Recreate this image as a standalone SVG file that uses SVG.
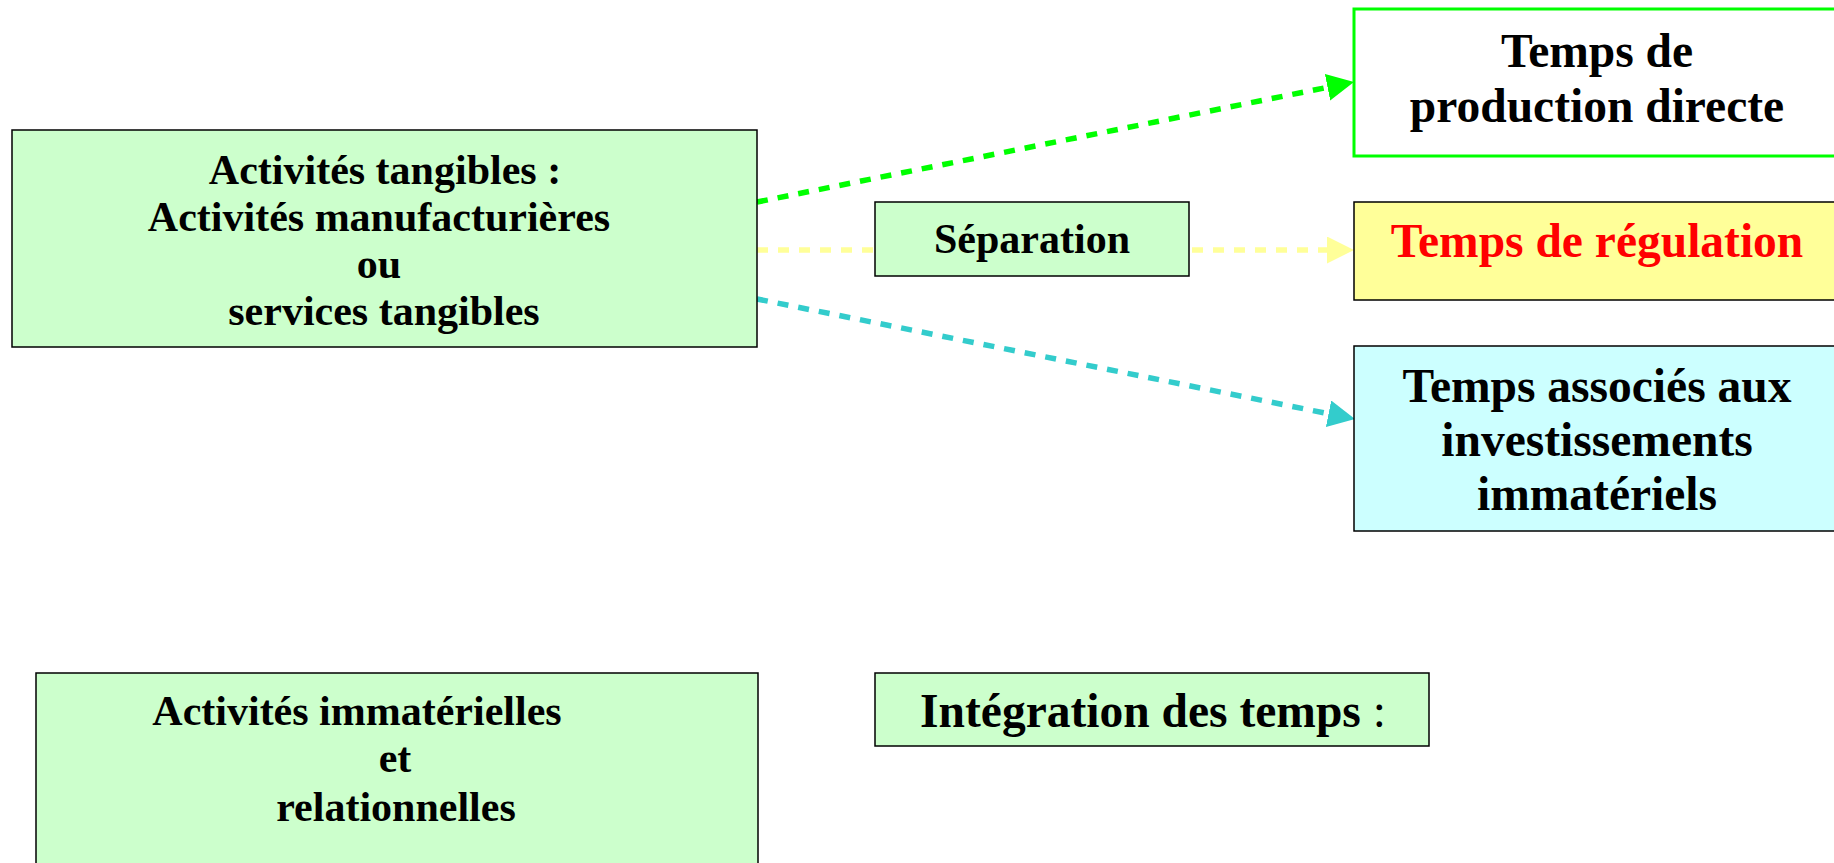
<svg xmlns="http://www.w3.org/2000/svg" width="1834" height="863" viewBox="0 0 1834 863">
  <defs>
    <style>
      .box { stroke: #000000; stroke-width: 1.5; }
      .green { fill: #ccffcc; }
      .t { font-family: "Liberation Serif", "Times New Roman", serif; font-weight: bold; fill: #000000; text-anchor: middle; }
      .s42 { font-size: 42px; }
      .s47 { font-size: 47.5px; }
      .link { fill: none; stroke-width: 5.5; stroke-dasharray: 11 10; }
    </style>
    <marker id="headGreen" markerUnits="userSpaceOnUse" markerWidth="28" markerHeight="28" refX="0" refY="13.5" orient="auto">
      <path d="M0,0 L27,13.5 L0,27 Z" fill="#00ff00"/>
    </marker>
    <marker id="headYellow" markerUnits="userSpaceOnUse" markerWidth="28" markerHeight="28" refX="0" refY="13.5" orient="auto">
      <path d="M0,0 L27,13.5 L0,27 Z" fill="#ffff99"/>
    </marker>
    <marker id="headTeal" markerUnits="userSpaceOnUse" markerWidth="28" markerHeight="28" refX="0" refY="13.5" orient="auto">
      <path d="M0,0 L27,13.5 L0,27 Z" fill="#33cccc"/>
    </marker>
  </defs>

  <rect width="1834" height="863" fill="#ffffff"/>

  <!-- connectors -->
  <g id="connectors">
    <line class="link" x1="757" y1="202" x2="1327.5" y2="87.3" stroke="#00ff00" marker-end="url(#headGreen)"/>
    <line class="link" x1="757" y1="250" x2="875" y2="250" stroke="#ffff99"/>
    <line class="link" x1="1192" y1="250" x2="1327" y2="250" stroke="#ffff99" marker-end="url(#headYellow)"/>
    <line class="link" x1="757" y1="299" x2="1328.5" y2="413.7" stroke="#33cccc" marker-end="url(#headTeal)"/>
  </g>

  <!-- tangible activities -->
  <g id="tangibles">
    <rect class="box green" x="12" y="130" width="745" height="217"/>
    <text class="t s42" x="385" y="184">Activités tangibles :</text>
    <text class="t s42" x="379" y="231">Activités manufacturières</text>
    <text class="t s42" x="379" y="278">ou</text>
    <text class="t s42" x="384" y="325">services tangibles</text>
  </g>

  <!-- separation -->
  <g id="separation">
    <rect class="box green" x="875" y="202" width="314" height="74"/>
    <text class="t s42" x="1032" y="253">Séparation</text>
  </g>

  <!-- direct production time -->
  <g id="production">
    <rect x="1354" y="9" width="490" height="147" fill="#ffffff" stroke="#00ff00" stroke-width="3"/>
    <text class="t s47" x="1597" y="67">Temps de</text>
    <text class="t s47" x="1597" y="122">production directe</text>
  </g>

  <!-- regulation time -->
  <g id="regulation">
    <rect class="box" x="1354" y="202" width="490" height="98" fill="#ffff99"/>
    <text class="t s47" x="1597" y="257" fill="#ff0000" style="fill:#ff0000">Temps de régulation</text>
  </g>

  <!-- intangible investments time -->
  <g id="investissements">
    <rect class="box" x="1354" y="346" width="490" height="185" fill="#ccffff"/>
    <text class="t s47" x="1597" y="402">Temps associés aux</text>
    <text class="t s47" x="1597" y="456">investissements</text>
    <text class="t s47" x="1597" y="510">immatériels</text>
  </g>

  <!-- intangible and relational activities -->
  <g id="immaterielles">
    <rect class="box green" x="36" y="673" width="722" height="200"/>
    <text class="t s42" x="357" y="725">Activités immatérielles</text>
    <text class="t s42" x="395" y="772">et</text>
    <text class="t s42" x="396" y="821">relationnelles</text>
  </g>

  <!-- time integration -->
  <g id="integration">
    <rect class="box green" x="875" y="673" width="554" height="73"/>
    <text class="t s47" x="1153" y="727">Intégration des temps <tspan font-weight="normal">:</tspan></text>
  </g>
</svg>
